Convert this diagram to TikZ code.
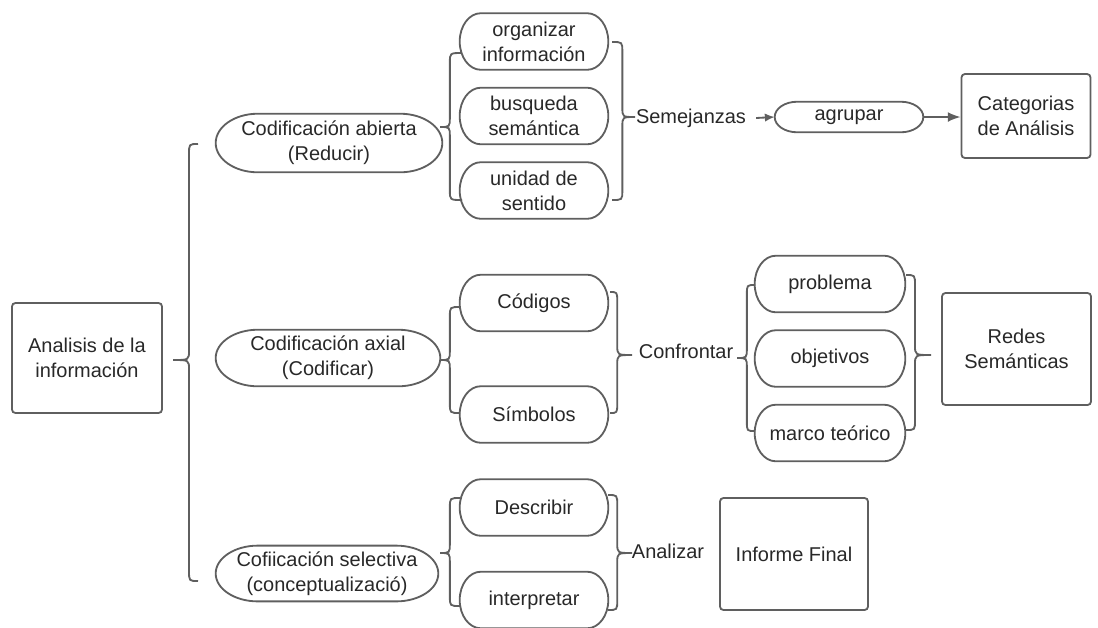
\documentclass[tikz,border=0pt]{standalone}
\usepackage{fontspec}
\setmainfont{Liberation Sans}
\usepackage{tikz}
\usetikzlibrary{calc, arrows.meta}
\definecolor{mygray}{RGB}{95, 95, 95}
\definecolor{mytext}{RGB}{40, 40, 40}
\tikzset{>={Latex[length=9pt,width=7pt]}}
\tikzset{
  box/.style = {draw = mygray, line width = 1.3pt, rounded corners = 2.5pt, align = center, text = mytext},
  oval/.style = {inner sep = 0pt, align = center, text = mytext},
  pill/.style = {inner sep = 0pt, align = center, text = mytext, minimum width = 3.7cm, minimum height = 1.4cm},
  brc/.style = {draw = mygray, line width = 1.3pt},
  lbl/.style = {text = mytext, inner sep = 1pt}
}
% curly bracket: tip, top end, bottom end, offset of the stem from the tip
\newcommand{\curly}[4]{%
  \draw[brc] let \p1 = (#1), \p2 = (#2), \p3 = (#3) in
    (\p2) .. controls (\x1+#4,\y2) .. (\x1+#4,\y2-7pt)
    -- (\x1+#4,\y1+7pt) .. controls (\x1+#4,\y1) .. (\p1)
    .. controls (\x1+#4,\y1) .. (\x1+#4,\y1-7pt)
    -- (\x1+#4,\y3+7pt) .. controls (\x1+#4,\y3) .. (\p3);}
% outline with elliptic ends round a node: node, depth of the ends
\newcommand{\roundshape}[2]{%
  \draw[brc] let \p1 = (#1.north west), \p2 = (#1.south east) in
    (\x1+#2,\y1) -- (\x2-#2,\y1)
    arc[start angle = 90, end angle = -90, x radius = #2, y radius = {(\y1-\y2)/2}]
    -- (\x1+#2,\y2)
    arc[start angle = 270, end angle = 90, x radius = #2, y radius = {(\y1-\y2)/2}]
    -- cycle;}

\begin{document}
\begin{tikzpicture}[x = 0.025cm, y = -0.025cm, font = \fontsize{14.2}{17.8}\selectfont]
\useasboundingbox (0,0) rectangle (1098,627);

% left column
\node[box, minimum width = 3.75cm, minimum height = 2.75cm] (an) at (87,358) {Analisis de la\\información};
\node[oval, minimum width = 5.65cm, minimum height = 1.45cm] (ca) at (329,143) {Codificación abierta\\(Reducir)};
\node[oval, minimum width = 5.6cm, minimum height = 1.4cm] (cx) at (328,358) {Codificación axial\\(Codificar)};
\node[oval, minimum width = 5.55cm, minimum height = 1.38cm] (cs) at (327,573.5) {Cofiicación selectiva\\(conceptualizació)};

% second column
\node[pill] (org) at (534,41.5) {organizar\\información};
\node[pill] (bus) at (534,116) {busqueda\\semántica};
\node[pill] (uni) at (534,190.5) {unidad de\\sentido};
\node[pill] (cod) at (534,303) {Códigos};
\node[pill] (sim) at (534,414.5) {Símbolos};
\node[pill] (des) at (534,507.5) {Describir};
\node[pill] (int) at (534,600) {interpretar};

% labels
\node[lbl] (sem) at (691,118) {Semejanzas};
\node[lbl] (con) at (686,351) {Confrontar};
\node[lbl] (ana) at (668,551) {Analizar};

\node[oval, minimum width = 3.7cm, minimum height = 0.75cm] (agr) at (849,117) {agrupar};
\node[pill, minimum width = 3.75cm] (pro) at (830,284) {problema};
\node[pill, minimum width = 3.75cm] (obj) at (830,358.5) {objetivos};
\node[pill, minimum width = 3.75cm] (mar) at (830,433) {marco teórico};

% right column
\node[box, minimum width = 3.225cm, minimum height = 2.1cm] (cat) at (1026,116) {Categorias\\de Análisis};
\node[box, minimum width = 3.725cm, minimum height = 2.8cm] (red) at (1016.5,349) {Redes\\Semánticas};
\node[box, minimum width = 3.7cm, minimum height = 2.8cm] (inf) at (794,554) {Informe Final};

% outlines
\foreach \nd in {ca, cx, cs} {\roundshape{\nd}{30pt}}
\foreach \nd in {org, bus, uni, cod, sim, des, int, pro, obj, mar} {\roundshape{\nd}{15pt}}
\roundshape{agr}{16pt}

% brace ends
\coordinate (t0) at (173,360); \coordinate (a0) at (198,144); \coordinate (b0) at (198,581);
\coordinate (t1) at (440,127); \coordinate (a1) at (462,53);  \coordinate (b1) at (462,200);
\coordinate (t2) at (635,117); \coordinate (a2) at (612,42);  \coordinate (b2) at (612,200);
\coordinate (t3) at (440,360); \coordinate (a3) at (460,307); \coordinate (b3) at (460,413);
\coordinate (t4) at (632,355); \coordinate (a4) at (610,292); \coordinate (b4) at (610,413);
\coordinate (t5) at (737,358); \coordinate (a5) at (755,285); \coordinate (b5) at (755,431);
\coordinate (t6) at (931,355); \coordinate (a6) at (906,275); \coordinate (b6) at (906,430);
\coordinate (t7) at (440,553); \coordinate (a7) at (460,498); \coordinate (b7) at (460,606);
\coordinate (t8) at (632,553); \coordinate (a8) at (608,495); \coordinate (b8) at (608,610);

\curly{t0}{a0}{b0}{11.4pt}
\curly{t1}{a1}{b1}{7pt}
\curly{t2}{a2}{b2}{-9pt}
\curly{t3}{a3}{b3}{7pt}
\curly{t4}{a4}{b4}{-10.5pt}
\curly{t5}{a5}{b5}{7pt}
\curly{t6}{a6}{b6}{-11.4pt}
\curly{t7}{a7}{b7}{7pt}
\curly{t8}{a8}{b8}{-10.5pt}

% arrows
\draw[brc, ->, >={Latex[length=7pt,width=6pt]}] ([xshift=6pt]sem.east) -- (agr.west);
\draw[brc, ->] (agr.east) -- (cat.west |- agr.east);
\end{tikzpicture}
\end{document}
